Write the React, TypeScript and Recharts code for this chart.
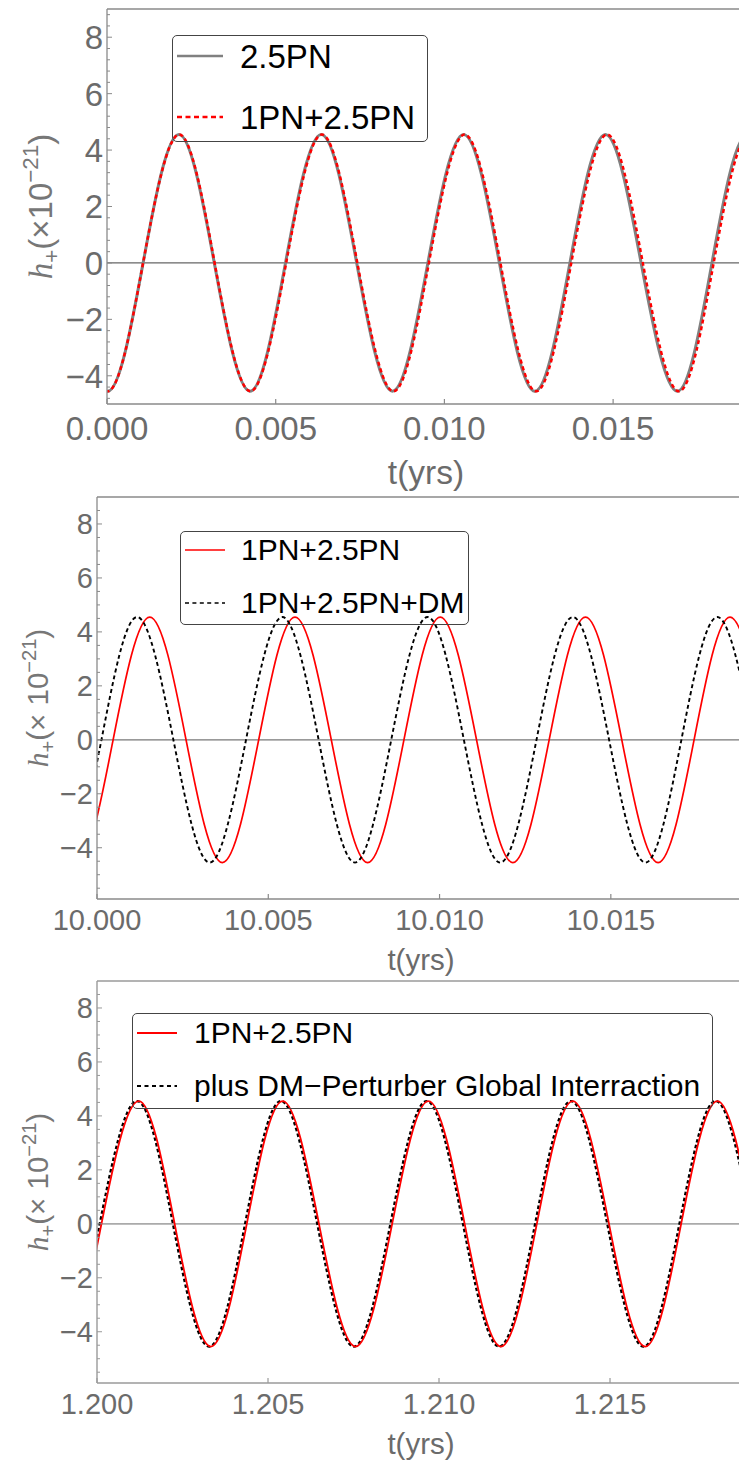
import React from "react";
import { Legend, Line, LineChart, ReferenceLine, XAxis, YAxis } from "recharts";

const FONT = '"Liberation Sans", Arial, sans-serif';
const TICK_GRAY = "#6b6b6b";

// h+ (x10^-21) at the sampled zero crossings / turning points, same phase order for every trace
const turningStrain = [0, -4.55, 0, 4.55, 0, -4.55, 0, 4.55, 0, -4.55, 0, 4.55, 0, -4.55, 0, 4.55, 0, -4.55, 0, 4.55, 0];

// panel 1, t (yrs) near 0
const pn25Time = [-0.00104, 0.00002, 0.00107, 0.00213, 0.00318, 0.00424, 0.00529, 0.00635, 0.0074, 0.00846, 0.00951, 0.01057, 0.01163, 0.01268, 0.01372, 0.01477, 0.01583, 0.0169, 0.01793, 0.01898, 0.02004];
const pn1pn25Time = [-0.00104, 0.00002, 0.00107, 0.00214, 0.00319, 0.00425, 0.00531, 0.00637, 0.00742, 0.00849, 0.00954, 0.0106, 0.01166, 0.01272, 0.01376, 0.01482, 0.01588, 0.01695, 0.01798, 0.01904, 0.0201];

// panel 2, t near 10 yrs
const late1pn25Time = [9.99837, 9.99943, 10.00047, 10.00154, 10.0026, 10.00366, 10.00472, 10.00578, 10.00684, 10.0079, 10.00896, 10.01002, 10.01108, 10.01214, 10.0132, 10.01426, 10.01532, 10.01638, 10.01743, 10.01848, 10.01954];
const lateDmTime = [9.998, 9.99906, 10.00013, 10.00117, 10.00223, 10.00329, 10.00435, 10.00541, 10.00647, 10.00753, 10.00859, 10.00965, 10.01071, 10.01177, 10.01283, 10.01389, 10.01495, 10.01601, 10.01706, 10.01811, 10.01917];

// panel 3, t near 1.2 yrs
const mid1pn25Time = [1.19803, 1.19909, 1.20013, 1.20122, 1.20227, 1.20333, 1.20438, 1.20543, 1.20649, 1.20756, 1.20863, 1.20969, 1.21075, 1.21181, 1.21286, 1.21391, 1.21497, 1.21603, 1.21708, 1.21814, 1.2192];
const midGlobalTime = [1.19798, 1.19904, 1.20008, 1.20117, 1.20222, 1.20328, 1.20433, 1.20538, 1.20644, 1.20751, 1.20858, 1.20964, 1.2107, 1.21176, 1.21281, 1.21386, 1.21492, 1.21598, 1.21703, 1.21809, 1.21915];

const panel1XTicks = [0, 0.005, 0.01, 0.015];
const panel2XTicks = [10, 10.005, 10.01, 10.015];
const panel3XTicks = [1.2, 1.205, 1.21, 1.215];

const panel1YTicks = [-4.8, -4.4, -4, -3.6, -3.2, -2.8, -2.4, -2, -1.6, -1.2, -0.8, -0.4, 0, 0.4, 0.8, 1.2, 1.6, 2, 2.4, 2.8, 3.2, 3.6, 4, 4.4, 4.8, 5.2, 5.6, 6, 6.4, 6.8, 7.2, 7.6, 8, 8.4, 8.8];
const panel23YTicks = [-5.5, -5, -4.5, -4, -3.5, -3, -2.5, -2, -1.5, -1, -0.5, 0, 0.5, 1, 1.5, 2, 2.5, 3, 3.5, 4, 4.5, 5, 5.5, 6, 6.5, 7, 7.5, 8, 8.5];

const toPoints = (time: number[]) => time.map((t, i) => ({ t, h: turningStrain[i] }));

type Trace = {
  name: string;
  points: { t: number; h: number }[];
  color: string;
  width: number;
  dash?: string;
  sampleWidth: number;
  sampleDash?: string;
  row: number;
};

type PanelCfg = {
  top: number;
  height: number;
  marginTop: number;
  axisWidth: number;
  axisHeight: number;
  xDomain: [number, number];
  yDomain: [number, number];
  xTicks: number[];
  yTicks: number[];
  tickSize: number;
  tickBaseline: number;
  titleSize: number;
  titleBaseline: number;
  yTitleCx: number;
  yTitleSize: number;
  spaced: boolean;
  frame: string;
  frameWidth: number;
  zero: string;
  zeroWidth: number;
  legend: {
    left: number;
    top: number;
    width: number;
    height: number;
    rows: number[];
    sampleLen: number;
    textLeft: number;
    fontSize: number;
  };
  traces: Trace[];
};

function XTick(props: any) {
  const { x, y, payload, labelSize, labelBaseline, frame } = props;
  return (
    <g>
      <line x1={x} x2={x} y1={y} y2={y - 5} stroke={frame} strokeWidth={1.2} />
      <text x={x} y={y + labelBaseline} textAnchor="middle" fill={TICK_GRAY} fontSize={labelSize} fontFamily={FONT}>
        {Number(payload.value).toFixed(3)}
      </text>
    </g>
  );
}

function YTick(props: any) {
  const { x, y, payload, labelSize, frame } = props;
  const v = Number(payload.value);
  const major = Math.abs(v / 2 - Math.round(v / 2)) < 1e-6;
  const text = v < 0 ? `\u2212${Math.abs(v)}` : `${v}`;
  return (
    <g>
      <line x1={x} x2={x + (major ? 5 : 3)} y1={y} y2={y} stroke={frame} strokeWidth={1} />
      {major && (
        <text x={x - 4} y={y + labelSize * 0.36} textAnchor="end" fill={TICK_GRAY} fontSize={labelSize} fontFamily={FONT}>
          {text}
        </text>
      )}
    </g>
  );
}

function XTitle(props: any) {
  const { viewBox, size, baseline } = props;
  return (
    <text x={viewBox.x + viewBox.width / 2 + 2} y={viewBox.y + baseline} textAnchor="middle" fill={TICK_GRAY} fontSize={size} fontFamily={FONT}>
      t(yrs)
    </text>
  );
}

function YTitle(props: any) {
  const { viewBox, size, cx, spaced } = props;
  const cy = viewBox.y + viewBox.height / 2;
  const y = cy + size * 0.35;
  return (
    <text x={viewBox.x + cx} y={y} transform={`rotate(-90 ${viewBox.x + cx} ${cy})`} textAnchor="middle" fill="#777" fontSize={size} fontFamily={FONT}>
      <tspan fontFamily='"Liberation Serif", serif' fontStyle="italic">h</tspan>
      <tspan fontSize={size * 0.68} dy={size * 0.22}>+</tspan>
      <tspan dy={-size * 0.22}>{spaced ? "(\u00d7 10" : "(\u00d710"}</tspan>
      <tspan fontSize={size * 0.68} dy={-size * 0.42}>{"\u221221"}</tspan>
      <tspan dy={size * 0.42}>)</tspan>
    </text>
  );
}

function LegendBox({ cfg }: { cfg: PanelCfg }) {
  const lg = cfg.legend;
  return (
    <div
      style={{
        position: "relative",
        width: lg.width,
        height: lg.height,
        boxSizing: "border-box",
        border: "1px solid #444",
        borderRadius: 5,
        fontFamily: FONT,
      }}
    >
      {cfg.traces.map((tr) => (
        <div
          key={tr.name}
          style={{ position: "absolute", left: 4, top: lg.rows[tr.row] - 20, height: 40, display: "flex", alignItems: "center" }}
        >
          <svg width={lg.sampleLen} height={10} style={{ display: "block" }}>
            <line x1={0} x2={lg.sampleLen} y1={5} y2={5} stroke={tr.color} strokeWidth={tr.sampleWidth} strokeDasharray={tr.sampleDash} />
          </svg>
          <span
            style={{
              marginLeft: lg.textLeft - 4 - lg.sampleLen,
              fontSize: lg.fontSize,
              lineHeight: 1,
              color: "#000",
              whiteSpace: "nowrap",
            }}
          >
            {tr.name}
          </span>
        </div>
      ))}
    </div>
  );
}

function Panel({ cfg }: { cfg: PanelCfg }) {
  return (
    <div style={{ position: "absolute", left: 0, top: cfg.top }}>
      <LineChart width={745} height={cfg.height} margin={{ top: cfg.marginTop, right: 4, bottom: 0, left: 0 }}>
        <XAxis
          type="number"
          dataKey="t"
          domain={cfg.xDomain}
          allowDataOverflow
          ticks={cfg.xTicks}
          interval={0}
          tickLine={false}
          tickSize={0}
          tickMargin={0}
          height={cfg.axisHeight}
          axisLine={{ stroke: cfg.frame, strokeWidth: cfg.frameWidth }}
          tick={<XTick labelSize={cfg.tickSize} labelBaseline={cfg.tickBaseline} frame={cfg.frame} />}
          label={<XTitle size={cfg.titleSize} baseline={cfg.titleBaseline} />}
        />
        <YAxis
          type="number"
          domain={cfg.yDomain}
          allowDataOverflow
          ticks={cfg.yTicks}
          interval={0}
          tickLine={false}
          tickSize={0}
          tickMargin={0}
          width={cfg.axisWidth}
          axisLine={{ stroke: cfg.frame, strokeWidth: cfg.frameWidth }}
          tick={<YTick labelSize={cfg.tickSize} frame={cfg.frame} />}
          label={<YTitle size={cfg.yTitleSize} cx={cfg.yTitleCx} spaced={cfg.spaced} />}
        />
        <ReferenceLine y={9} stroke={cfg.frame} strokeWidth={cfg.frameWidth} />
        <ReferenceLine y={0} stroke={cfg.zero} strokeWidth={cfg.zeroWidth} />
        {cfg.traces.map((tr) => (
          <Line
            key={tr.name}
            data={tr.points}
            dataKey="h"
            name={tr.name}
            type="natural"
            stroke={tr.color}
            strokeWidth={tr.width}
            strokeDasharray={tr.dash}
            dot={false}
            activeDot={false}
            isAnimationActive={false}
          />
        ))}
        <Legend
          verticalAlign="middle"
          align="center"
          content={() => <LegendBox cfg={cfg} />}
          wrapperStyle={{
            left: cfg.legend.left,
            top: cfg.legend.top,
            width: cfg.legend.width,
            height: cfg.legend.height,
            right: "auto",
            bottom: "auto",
            margin: 0,
          }}
        />
      </LineChart>
    </div>
  );
}

const panels: PanelCfg[] = [
  {
    top: 0,
    height: 493,
    marginTop: 9,
    axisWidth: 107,
    axisHeight: 89,
    xDomain: [0, 0.01879],
    yDomain: [-5, 9],
    xTicks: panel1XTicks,
    yTicks: panel1YTicks,
    tickSize: 33,
    tickBaseline: 36,
    titleSize: 33.5,
    titleBaseline: 80,
    yTitleCx: 40,
    yTitleSize: 33,
    spaced: false,
    frame: "#8a8a8a",
    frameWidth: 1.3,
    zero: "#666",
    zeroWidth: 1.2,
    legend: { left: 172, top: 35, width: 256, height: 107, rows: [20, 81], sampleLen: 46, textLeft: 67, fontSize: 33 },
    traces: [
      { name: "2.5PN", points: toPoints(pn25Time), color: "#808080", width: 3, sampleWidth: 2.5, row: 0 },
      {
        name: "1PN+2.5PN",
        points: toPoints(pn1pn25Time),
        color: "#ff0000",
        width: 2.5,
        dash: "4 3",
        sampleWidth: 2.5,
        sampleDash: "5 3.5",
        row: 1,
      },
    ],
  },
  {
    top: 493,
    height: 485,
    marginTop: 4,
    axisWidth: 97,
    axisHeight: 79,
    xDomain: [10, 10.0188],
    yDomain: [-5.9, 9],
    xTicks: panel2XTicks,
    yTicks: panel23YTicks,
    tickSize: 29,
    tickBaseline: 31,
    titleSize: 29.5,
    titleBaseline: 71,
    yTitleCx: 38,
    yTitleSize: 29.5,
    spaced: true,
    frame: "#8a8a8a",
    frameWidth: 1.3,
    zero: "#777",
    zeroWidth: 1.2,
    legend: { left: 180, top: 38, width: 289, height: 94, rows: [17.5, 71], sampleLen: 40, textLeft: 60, fontSize: 30 },
    traces: [
      { name: "1PN+2.5PN", points: toPoints(late1pn25Time), color: "#ff0000", width: 1.7, sampleWidth: 1.7, row: 0 },
      {
        name: "1PN+2.5PN+DM",
        points: toPoints(lateDmTime),
        color: "#000",
        width: 1.9,
        dash: "4 3",
        sampleWidth: 1.7,
        sampleDash: "4 3.4",
        row: 1,
      },
    ],
  },
  {
    top: 978,
    height: 483,
    marginTop: 3,
    axisWidth: 97,
    axisHeight: 78,
    xDomain: [1.2, 1.21883],
    yDomain: [-5.9, 9],
    xTicks: panel3XTicks,
    yTicks: panel23YTicks,
    tickSize: 29,
    tickBaseline: 31,
    titleSize: 29.5,
    titleBaseline: 71,
    yTitleCx: 38,
    yTitleSize: 29.5,
    spaced: true,
    frame: "#9a9a9a",
    frameWidth: 1.4,
    zero: "#aaa",
    zeroWidth: 1.8,
    legend: { left: 132, top: 35, width: 581, height: 96, rows: [18.5, 72], sampleLen: 40, textLeft: 61, fontSize: 30 },
    traces: [
      // dashed trace drawn first so the red one sits on top
      {
        name: "plus DM\u2212Perturber Global Interraction",
        points: toPoints(midGlobalTime),
        color: "#000",
        width: 2.3,
        dash: "3.5 2.5",
        sampleWidth: 2,
        sampleDash: "4 3.5",
        row: 1,
      },
      { name: "1PN+2.5PN", points: toPoints(mid1pn25Time), color: "#ff0000", width: 1.8, sampleWidth: 1.8, row: 0 },
    ],
  },
];

export default function App() {
  return (
    <div style={{ position: "absolute", left: 0, top: 0, width: 739, height: 1461, overflow: "hidden", background: "#fff" }}>
      {panels.map((p, i) => (
        <Panel key={i} cfg={p} />
      ))}
    </div>
  );
}
